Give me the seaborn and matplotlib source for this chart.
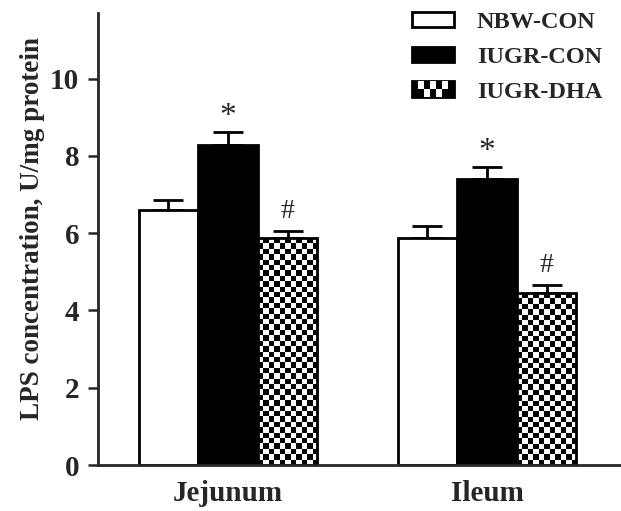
import numpy as np
import pandas as pd
import matplotlib
matplotlib.use("Agg")
import matplotlib.pyplot as plt
import seaborn as sns
from matplotlib.patches import Patch, Rectangle
from matplotlib.legend_handler import HandlerBase

# --- data ---
segments = ["Jejunum", "Ileum"]
groups = ["NBW-CON", "IUGR-CON", "IUGR-DHA"]
means = {
    "NBW-CON": [6.60, 5.87],
    "IUGR-CON": [8.29, 7.40],
    "IUGR-DHA": [5.87, 4.44],
}
sems = {
    "NBW-CON": [0.27, 0.32],
    "IUGR-CON": [0.33, 0.32],
    "IUGR-DHA": [0.20, 0.21],
}
marks = {"IUGR-CON": "*", "IUGR-DHA": "#"}
yticks = [0, 2, 4, 6, 8, 10]

rows = []
for g in groups:
    for s, m in zip(segments, means[g]):
        rows.append({"segment": s, "group": g, "value": m})
df = pd.DataFrame(rows)

sns.set_style("ticks")
plt.rcParams["font.family"] = ["Liberation Serif", "DejaVu Serif"]

fig = plt.figure(figsize=(6.21, 5.11), dpi=100)
ax = fig.add_axes([98 / 621, 1 - 465 / 511, 1 - 98 / 621, (465 - 13) / 511])

sns.barplot(
    data=df, x="segment", y="value", hue="group", order=segments, hue_order=groups,
    palette=["white", "black", "white"], edgecolor="black", linewidth=2,
    width=0.69, errorbar=None, legend=False, ax=ax, saturation=1,
)
ax.set_xlim(-0.502, 1.517)
ax.set_ylim(0, 11.7)

# error bars (upper only) + significance marks
for i, g in enumerate(groups):
    bars = ax.containers[i]
    xs = [b.get_x() + b.get_width() / 2 for b in bars]
    ax.errorbar(xs, means[g], yerr=[np.zeros(len(xs)), sems[g]], fmt="none",
                ecolor="black", elinewidth=2, capsize=11, capthick=2, zorder=0.8)
    if g in marks:
        for x, m, e in zip(xs, means[g], sems[g]):
            size = 24 if marks[g] == "*" else 20
            off = 0 if marks[g] == "*" else 5
            ax.annotate(marks[g], (x, m + e), xytext=(0, off), textcoords="offset points",
                        ha="center", va="bottom", fontsize=size)

# checkerboard fill for IUGR-DHA
cell_px = 5.4
for b in ax.containers[2]:
    b.set_facecolor("none")
    b.set_zorder(2)
    x0, w, h = b.get_x(), b.get_width(), b.get_height()
    p0 = ax.transData.transform((x0, 0))
    p1 = ax.transData.transform((x0 + w, h))
    nx = max(1, int(round((p1[0] - p0[0]) / cell_px)))
    ny = max(1, int(round((p1[1] - p0[1]) / cell_px)))
    checker = (np.add.outer(np.arange(ny), np.arange(nx)) % 2).astype(float)
    ax.imshow(checker, cmap="gray", extent=(x0, x0 + w, 0, h), origin="lower",
              interpolation="nearest", aspect="auto", zorder=1.5)
ax.set_xlim(-0.502, 1.517)
ax.set_ylim(0, 11.7)

# axes styling
sns.despine(ax=ax, top=True, right=True)
for sp in ["left", "bottom"]:
    ax.spines[sp].set_linewidth(2)
ax.set_yticks(yticks)
ax.set_yticklabels([str(t) for t in yticks], fontsize=21, fontweight="bold")
ax.tick_params(axis="y", direction="out", length=7.5, width=1.8, pad=6)
ax.tick_params(axis="x", length=0, pad=11)
ax.set_xticks(range(len(segments)))
ax.set_xticklabels(segments, fontsize=21, fontweight="bold")
ax.set_xlabel("")
ax.set_ylabel("LPS concentration, U/mg protein", fontsize=19.5, fontweight="bold")
ax.yaxis.set_label_coords(-0.101, 0.522)


class CheckerHandler(HandlerBase):
    def create_artists(self, legend, orig_handle, xdescent, ydescent, width, height,
                       fontsize, trans):
        arts = [Rectangle((-xdescent, -ydescent), width, height, facecolor="black",
                          edgecolor="black", lw=2, transform=trans)]
        nx, ny = 7, 2
        cw, ch = width / nx, height / ny
        for r in range(ny):
            for c in range(nx):
                if (r + c) % 2 == 0 and 0 < c < nx - 1:
                    arts.append(Rectangle((-xdescent + c * cw, -ydescent + r * ch), cw, ch,
                                          facecolor="white", lw=0, transform=trans))
        return arts


handles = [
    Patch(facecolor="white", edgecolor="black", lw=2),
    Patch(facecolor="black", edgecolor="black", lw=2),
    Patch(facecolor="white", edgecolor="black"),
]
leg = ax.legend(handles, groups, handler_map={handles[2]: CheckerHandler()},
                loc="upper left", bbox_to_anchor=(412 / 621, 1 - 12 / 511),
                bbox_transform=fig.transFigure, frameon=False, borderpad=0,
                borderaxespad=0, handlelength=1.72, handleheight=0.6,
                handletextpad=0.95, labelspacing=0.55,
                prop={"family": "Liberation Serif", "weight": "bold", "size": 17.5})

fig.savefig("out.png", dpi=100)
